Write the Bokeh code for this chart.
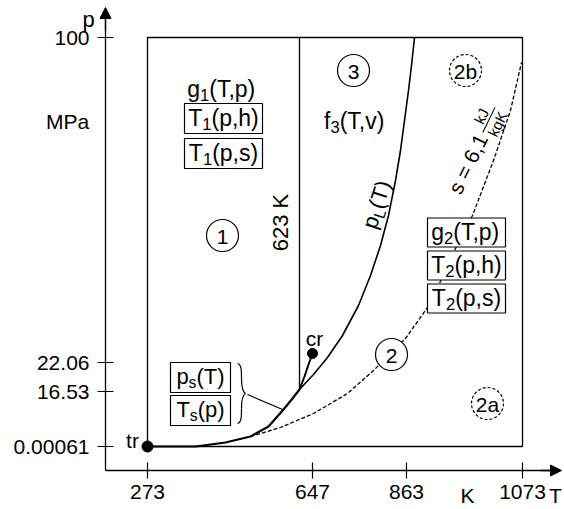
import math
from bokeh.plotting import figure
from bokeh.models import FixedTicker, Label, Arrow, NormalHead
from bokeh.embed import file_html
from bokeh.resources import INLINE

FONT = "Liberation Sans"

# ---- axis data (schematic diagram positions of the characteristic values) ----
T_tick_labels = ["273", "647", "863", "1073"]
T_tick_pos = [0, 165, 259, 375]
p_tick_labels = ["0.00061", "16.53", "22.06", "100"]
p_tick_pos = [0, 55, 84, 409]

# region outline (273..1073 K, 0.00061..100 MPa)
box_x = [0, 0, 375, 375, 0]
box_y = [0, 409, 409, 0, 0]

# 623 K boundary
b623_x = [152, 152]
b623_y = [57, 409]

# saturation line tr -> 623 K
sat_x = [0, 48, 78, 103, 121, 136, 145, 152]
sat_y = [0, 0, 4, 10, 20, 37, 48, 57]
# saturation line 623 K -> cr
sat3_x = [152, 157, 161, 165]
sat3_y = [57, 70, 82, 93]

# B23 boundary p_L(T)
pl_x = [152, 166, 180, 195, 211, 223, 233, 241, 248, 253, 257, 261, 264, 267]
pl_y = [57, 72, 89, 111, 141, 171, 201, 231, 266, 296, 326, 356, 381, 409]

# s = 6.1 kJ/(kg K) line (2a / 2b)
s_x = [103, 133, 166, 200, 226, 243, 258, 280, 291, 308, 325, 346, 363, 374]
s_y = [10, 19, 33, 53, 76, 93, 108, 139, 161, 198, 231, 286, 336, 384]

tr_pt = (0, 0)
cr_pt = (165, 93)


def X(px):
    return px - 147


def Y(py):
    return 446 - py


p = figure(width=564, height=509, x_range=(X(0), X(564)), y_range=(Y(509), Y(0)),
           output_backend="svg", toolbar_location=None,
           min_border_left=0, min_border_right=0, min_border_top=0, min_border_bottom=0)
p.outline_line_color = None
p.grid.visible = False
p.background_fill_color = "white"
p.border_fill_color = "white"

for ax, ticks, labels in ((p.xaxis[0], T_tick_pos, T_tick_labels), (p.yaxis[0], p_tick_pos, p_tick_labels)):
    ax.ticker = FixedTicker(ticks=ticks, minor_ticks=[])
    ax.major_label_overrides = {t: l for t, l in zip(ticks, labels)}
    ax.major_tick_in = 8
    ax.major_tick_out = 8
    ax.minor_tick_line_color = None
    ax.axis_line_width = 1.3
    ax.major_tick_line_width = 1.2
    ax.axis_line_color = "black"
    ax.major_tick_line_color = "black"
    ax.major_label_text_font = FONT
    ax.major_label_text_font_size = "21px"
    ax.major_label_text_color = "black"
p.xaxis.fixed_location = Y(470)
p.yaxis.fixed_location = X(105)
p.xaxis.bounds = (X(105), X(552))
p.yaxis.bounds = (Y(470), Y(16))
p.xaxis.major_label_standoff = 6
p.yaxis.major_label_standoff = 8

# lines
p.line(box_x, box_y, line_color="black", line_width=1.3)
p.line(b623_x, b623_y, line_color="black", line_width=1.3)
p.line(s_x, s_y, line_color="black", line_width=1.3, line_dash="4 2")
p.line(pl_x, pl_y, line_color="black", line_width=1.6)
p.line(sat_x, sat_y, line_color="black", line_width=2.2)
p.line(sat3_x, sat3_y, line_color="black", line_width=2.0)

# brace and pointer
bz = [((237, 363), (241, 378), (241, 364), (241, 370)),
      ((241, 378), (245, 393), (241, 388), (243, 392)),
      ((245, 393), (241, 408), (243, 394), (241, 398)),
      ((241, 408), (237, 423), (241, 416), (241, 422))]
p.bezier(x0=[X(b[0][0]) for b in bz], y0=[Y(b[0][1]) for b in bz],
         x1=[X(b[1][0]) for b in bz], y1=[Y(b[1][1]) for b in bz],
         cx0=[X(b[2][0]) for b in bz], cy0=[Y(b[2][1]) for b in bz],
         cx1=[X(b[3][0]) for b in bz], cy1=[Y(b[3][1]) for b in bz],
         line_color="black", line_width=1.2)
p.segment(x0=[X(247)], y0=[Y(394)], x1=[X(282)], y1=[Y(409)], line_color="black", line_width=1.1)

# boxes
bx = [(223, 118, 78, 30), (223, 153, 78, 30), (466, 232, 78, 29), (466, 265, 78, 29),
      (466, 298, 78, 29), (200, 377, 60, 30), (200, 410, 60, 30)]
p.rect(x=[X(b[0]) for b in bx], y=[Y(b[1]) for b in bx], width=[b[2] for b in bx],
       height=[b[3] for b in bx], fill_color="white", line_color="black", line_width=1.2)

# circles
circ_solid = [(222, 235), (353, 70), (391, 354)]
circ_dash = [(465, 70), (487, 403)]
p.circle(x=[X(c[0]) for c in circ_solid], y=[Y(c[1]) for c in circ_solid], radius=16,
         fill_color="white", line_color="black", line_width=1.2)
p.circle(x=[X(c[0]) for c in circ_dash], y=[Y(c[1]) for c in circ_dash], radius=16,
         fill_color="white", line_color="black", line_width=1.2, line_dash="3 2")

# points
p.scatter(x=[tr_pt[0], cr_pt[0]], y=[tr_pt[1], cr_pt[1]], size=[11, 10], color="black")

# arrows of axes
p.add_layout(Arrow(end=NormalHead(size=11, fill_color="black", line_color="black"),
                   x_start=X(105), y_start=Y(30), x_end=X(105), y_end=Y(7),
                   line_color="black", line_width=1.3))
p.add_layout(Arrow(end=NormalHead(size=11, fill_color="black", line_color="black"),
                   x_start=X(540), y_start=Y(470), x_end=X(561), y_end=Y(470),
                   line_color="black", line_width=1.3))

# ---- text helpers ----
WID = {'g': .556, 'T': .611, '(': .333, ')': .333, ',': .278, 'p': .556, 'h': .556,
       's': .5, 'f': .278, 'v': .5, '1': .556, '2': .556, '3': .556, 'L': .556,
       'k': .5, 'J': .5, 'K': .667, '=': .584, ' ': .278, '6': .556, 'M': .833,
       'P': .667, 'a': .556, 'c': .5, 'r': .333, 't': .278, 'b': .556, '.': .278,
       '0': .556}


def tw(s, size):
    return sum(WID.get(c, .556) for c in s) * size


def put(x, y, text, size, angle=0.0, align="left", baseline="middle"):
    p.add_layout(Label(x=x, y=y, text=text, angle=angle, text_font=FONT,
                       text_font_size=f"{size:.1f}px", text_color="black",
                       text_align=align, text_baseline=baseline))


def rich(px, py, segs, size=21, angle=0.0, sub=0.72, drop=0.28):
    a = math.radians(angle)
    ca, sa = math.cos(a), math.sin(a)
    cx, cy = X(px), Y(py)
    pieces, total = [], 0.0
    for t, k in segs:
        fs = size * sub if k == 's' else size
        pieces.append((t, fs, total, -drop * size if k == 's' else 0.0))
        total += tw(t, fs)
    for t, fs, du, dw in pieces:
        u = du - total / 2
        w = dw
        put(cx + u * ca - w * sa, cy + u * sa + w * ca, t, fs, angle=a)


def plain(px, py, text, size=20):
    put(X(px), Y(py), text, size, align="center")


# axis captions
plain(88, 19, "p", 22)
plain(67, 121, "MPa", 21)
plain(467, 495, "K", 21)
plain(555, 495, "T", 21)

# region numbers
plain(222, 236, "1", 21)
plain(353, 71, "3", 21)
plain(465, 71, "2b", 21)
plain(391, 355, "2", 21)
plain(487, 404, "2a", 21)
plain(314, 338, "cr", 21)
plain(132, 440, "tr", 21)

# equations
rich(222, 88, [("g", 'n'), ("1", 's'), ("(T,p)", 'n')], 23)
rich(223, 117, [("T", 'n'), ("1", 's'), ("(p,h)", 'n')], 23)
rich(223, 152, [("T", 'n'), ("1", 's'), ("(p,s)", 'n')], 23)
rich(355, 120, [("f", 'n'), ("3", 's'), ("(T,v)", 'n')], 23)
rich(466, 231, [("g", 'n'), ("2", 's'), ("(T,p)", 'n')], 23)
rich(466, 264, [("T", 'n'), ("2", 's'), ("(p,h)", 'n')], 23)
rich(466, 297, [("T", 'n'), ("2", 's'), ("(p,s)", 'n')], 23)
rich(200, 376, [("p", 'n'), ("s", 's'), ("(T)", 'n')], 22)
rich(200, 409, [("T", 'n'), ("s", 's'), ("(p)", 'n')], 22)
rich(280, 222, [("623 K", 'n')], 22, angle=90)
rich(376, 204, [("p", 'n'), ("L", 's'), ("(T)", 'n')], 22, angle=72)

# s = 6,1 kJ/(kg K), rotated
ang = math.radians(64)
ca, sa = math.cos(ang), math.sin(ang)
cx, cy = X(474), Y(150)
main, fsz, fr = "s = 6,1", 21, 15
wm = tw(main, fsz)
wf = tw("kgK", fr)
tot = wm + 4 + wf
u0 = -tot / 2


def loc(u, w):
    return cx + u * ca - w * sa, cy + u * sa + w * ca


x_, y_ = loc(u0, 0)
put(x_, y_, main, fsz, angle=ang)
uf = u0 + wm + 4
x_, y_ = loc(uf + (wf - tw("kJ", fr)) / 2, 9)
put(x_, y_, "kJ", fr, angle=ang)
x_, y_ = loc(uf, -9)
put(x_, y_, "kgK", fr, angle=ang)
xa, ya = loc(uf - 1, 0.5)
xb, yb = loc(uf + wf + 1, 0.5)
p.segment(x0=[xa], y0=[ya], x1=[xb], y1=[yb], line_color="black", line_width=1.1)

open("out.html", "w").write(file_html(p, INLINE))
